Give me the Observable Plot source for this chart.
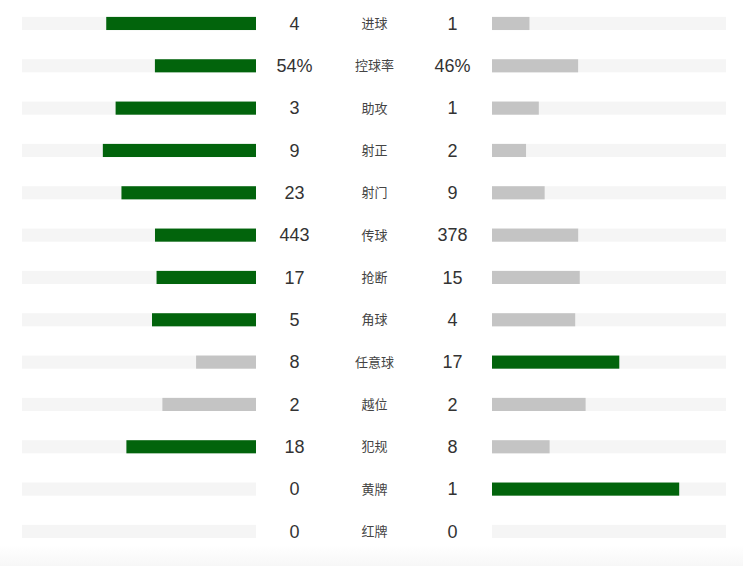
<!DOCTYPE html>
<html>
<head>
<meta charset="utf-8">
<script src="https://cdn.jsdelivr.net/npm/d3@7"></script>
<script src="https://cdn.jsdelivr.net/npm/@observablehq/plot@0.6"></script>
<style>
  html, body { margin: 0; padding: 0; }
  body { width: 743px; height: 566px; overflow: hidden;
         background: linear-gradient(to bottom, #ffffff 0px, #ffffff 545px, #f7f7f7 566px); }
  svg { display: block; }
</style>
</head>
<body>
<div id="chart"></div>
<script>
const categories = ["进球", "控球率", "助攻", "射正", "射门", "传球", "抢断", "角球", "任意球", "越位", "犯规", "黄牌", "红牌"];
const homeValues = [4, 54, 3, 9, 23, 443, 17, 5, 8, 2, 18, 0, 0];
const awayValues = [1, 46, 1, 2, 9, 378, 15, 4, 17, 2, 8, 1, 0];
const percentRows = ["控球率"];

const GREEN = "#02640c", GRAY = "#c4c4c4", TRACK = "#f5f5f5";
const GAP = 118 / 234;    // half gap between tracks, in track-widths
const FILL = 0.8;         // home+away share of one track

const rows = categories.map((c, i) => {
  const h = homeValues[i], a = awayValues[i], t = h + a;
  const suffix = percentRows.includes(c) ? "%" : "";
  return {
    cat: c, h, a,
    hs: t ? h / t * FILL : 0,
    as: t ? a / t * FILL : 0,
    hc: h > a ? GREEN : GRAY,
    ac: a > h ? GREEN : GRAY,
    hl: h + suffix, al: a + suffix
  };
});

const chart = Plot.plot({
  width: 743, height: 566,
  marginTop: 0, marginBottom: 0, marginLeft: 0, marginRight: 0,
  style: { background: "transparent" },
  x: { domain: [-(1 + GAP), 1 + GAP], range: [22, 726], axis: null },
  y: { domain: categories, range: [-12.3, 567.2], padding: 0.69, round: false, axis: null },
  marks: [
    Plot.barX(rows, { y: "cat", x1: -GAP, x2: -(1 + GAP), fill: TRACK }),
    Plot.barX(rows, { y: "cat", x1: GAP, x2: 1 + GAP, fill: TRACK }),
    Plot.barX(rows.filter(d => d.hs > 0), { y: "cat", x1: -GAP, x2: d => -GAP - d.hs, fill: d => d.hc }),
    Plot.barX(rows.filter(d => d.as > 0), { y: "cat", x1: GAP, x2: d => GAP + d.as, fill: d => d.ac }),
    Plot.text(rows, { y: "cat", x: -0.342, text: "hl", fontSize: 18, fill: "#333",
      fontFamily: "Liberation Sans, Arial, sans-serif", textAnchor: "middle" }),
    Plot.text(rows, { y: "cat", x: 0.333, text: "al", fontSize: 18, fill: "#333",
      fontFamily: "Liberation Sans, Arial, sans-serif", textAnchor: "middle" }),
    Plot.text(rows, { y: "cat", x: 0, text: "cat", fontSize: 13, fill: "#444",
      fontFamily: "Noto Sans CJK SC, sans-serif", textAnchor: "middle" })
  ]
});
document.getElementById("chart").appendChild(chart);
</script>
</body>
</html>
